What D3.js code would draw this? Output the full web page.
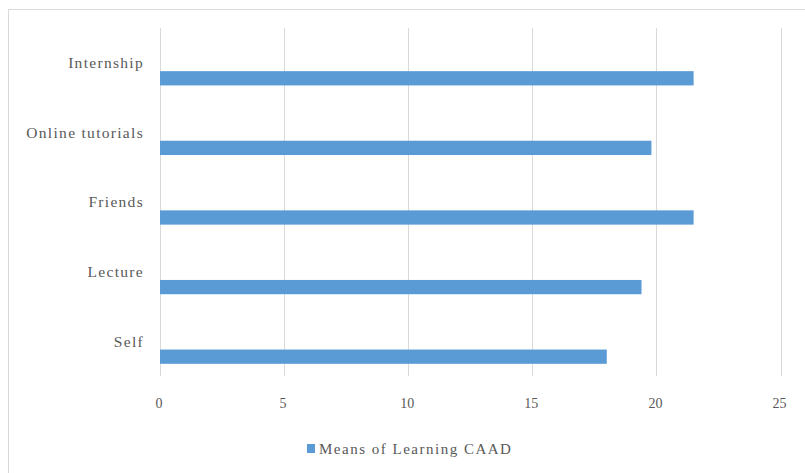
<!DOCTYPE html>
<html>
<head>
<meta charset="utf-8">
<script src="https://cdn.jsdelivr.net/npm/d3@7"></script>
<style>
  body { margin: 0; background: #fff; }
  text { font-family: "Liberation Serif", "DejaVu Serif", serif; fill: #595959; }
</style>
</head>
<body>
<div id="chart"></div>
<script>
// chart data
var categories = ["Internship", "Online tutorials", "Friends", "Lecture", "Self"];
var values = [21.5, 19.8, 21.5, 19.4, 18.0];
var tickValues = [0, 5, 10, 15, 20, 25];
var seriesName = "Means of Learning CAAD";

var W = 805, H = 473;
var margin = {top: 28, right: 24, bottom: 97, left: 160};

var svg = d3.select("#chart")
    .append("svg")
    .attr("width", W)
    .attr("height", H);

// outer chart border
svg.append("rect")
    .attr("x", 8.5).attr("y", 9.5)
    .attr("width", W).attr("height", H)
    .attr("fill", "none")
    .attr("stroke", "#d9d9d9");

var x = d3.scaleLinear()
    .domain([0, 25])
    .range([margin.left, 780.5]);

var y = d3.scaleBand()
    .domain(categories)
    .range([margin.top, H - margin.bottom]);

// gridlines
svg.selectAll(".grid")
    .data(tickValues)
    .enter().append("line")
    .attr("x1", d => Math.round(x(d)) + 0.5)
    .attr("x2", d => Math.round(x(d)) + 0.5)
    .attr("y1", margin.top)
    .attr("y2", H - margin.bottom)
    .attr("stroke", "#d9d9d9")
    .attr("stroke-width", 1);

// bars sit low inside each band
var bw = y.bandwidth();
svg.selectAll(".bar")
    .data(categories)
    .enter().append("rect")
    .attr("x", x(0))
    .attr("y", d => y(d) + bw * 0.62)
    .attr("width", (d, i) => x(values[i]) - x(0))
    .attr("height", bw * 0.205)
    .attr("fill", "#5b9bd5");

// category labels
svg.selectAll(".cat")
    .data(categories)
    .enter().append("text")
    .attr("x", margin.left - 16)
    .attr("y", d => y(d) + bw * 0.5)
    .attr("dy", "0.35em")
    .attr("text-anchor", "end")
    .style("font-size", "15.5px")
    .style("letter-spacing", "1.3px")
    .text(d => d);

// x tick labels
svg.selectAll(".tick")
    .data(tickValues)
    .enter().append("text")
    .attr("x", d => x(d) - 1)
    .attr("y", 403)
    .attr("dy", "0.35em")
    .attr("text-anchor", "middle")
    .style("font-size", "14px")
    .text(d => d);

// legend
var legend = svg.append("g");
legend.append("rect")
    .attr("x", 307).attr("y", 444)
    .attr("width", 8).attr("height", 9)
    .attr("fill", "#5b9bd5");
legend.append("text")
    .attr("x", 319).attr("y", 449)
    .attr("dy", "0.35em")
    .style("font-size", "15px")
    .style("letter-spacing", "1.5px")
    .text(seriesName);
</script>
</body>
</html>
